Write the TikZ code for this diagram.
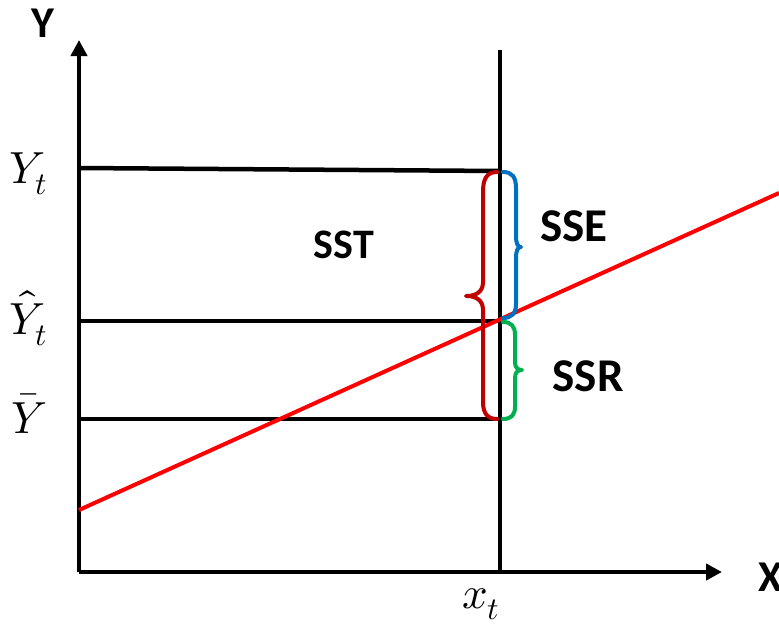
\documentclass[tikz,border=0pt]{standalone}
\usepackage{fontspec}
\usepackage{unicode-math}
\setmathfont{Latin Modern Math}
\setsansfont{Carlito}
\usetikzlibrary{arrows.meta}
\definecolor{bred}{HTML}{C00000}
\definecolor{bblue}{HTML}{0070C0}
\definecolor{bgreen}{HTML}{00B050}
\definecolor{lred}{HTML}{FF0000}
\begin{document}
\begin{tikzpicture}[x=1pt,y=-1pt,
  axis/.style={line width=4.5pt,-{Triangle[length=16pt,width=16pt]}},
  guide/.style={line width=4.5pt},
  bracestyle/.style={line width=4pt,line cap=round,line join=round},
  sslabel/.style={font=\sffamily\bfseries\fontsize{47}{50}\selectfont,inner sep=0pt},
  axlabel/.style={font=\sffamily\bfseries\fontsize{44}{46}\selectfont,inner sep=0pt},
  mlabel/.style={font=\fontsize{45}{48}\selectfont,inner sep=0pt,anchor=base west}]
\useasboundingbox (0,0) rectangle (779,627);
% coordinates
\coordinate (O) at (79,572);
\coordinate (Ytip) at (79,40);
\coordinate (Xtip) at (722,572);
\coordinate (Vtop) at (500,50);
\coordinate (Vbot) at (500,572);
\coordinate (YtL) at (79,168);
\coordinate (YtR) at (500,171);
\coordinate (YhL) at (79,321);
\coordinate (YhR) at (500,321);
\coordinate (YbL) at (79,419);
\coordinate (YbR) at (500,419);
\coordinate (RL) at (79,510);
\coordinate (RR) at (779,193);
% guides
\draw[guide] (Vtop) -- (Vbot);
\draw[guide] (YtL) -- (YtR);
\draw[guide] (YhL) -- (YhR);
\draw[guide] (YbL) -- (YbR);
% axes
\draw[axis] (O) -- (Ytip);
\draw[axis] (O) -- (Xtip);
% regression line
\draw[lred,line width=4pt] (RL) -- (RR);
% red brace (SST)
\draw[bred,bracestyle] (497,172) .. controls (486,172) and (483,180) .. (483,192)
  -- (483,282) .. controls (483,292) and (476,296) .. (466,296)
  .. controls (476,296) and (483,300) .. (483,310)
  -- (483,402) .. controls (483,414) and (488,419) .. (497,419);
% blue brace (SSE)
\draw[bblue,bracestyle] (503,172) .. controls (512,172) and (516,177) .. (516,188)
  -- (516,236) .. controls (516,244) and (518,247) .. (521,247)
  .. controls (518,247) and (516,250) .. (516,258)
  -- (516,304) .. controls (516,314) and (511,318) .. (503,318);
% green brace (SSR)
\draw[bgreen,bracestyle] (503,322) .. controls (511,322) and (515,326) .. (515,335)
  -- (515,362) .. controls (515,368) and (518,370) .. (522,370)
  .. controls (518,370) and (515,372) .. (515,378)
  -- (515,407) .. controls (515,415) and (511,419) .. (503,419);
% labels
\node[axlabel] (ylab) at (43,23) {Y};
\node[axlabel] (xlab) at (771,577) {X};
\node[mlabel] (yt) at (9,183) {$Y_t$};
\node[mlabel] (yh) at (9,334) {$\hat{Y}_t$};
\node[mlabel] (yb) at (11,433) {$\bar{Y}$};
\node[mlabel] (xt) at (462,608) {$x_t$};
\node[sslabel,font=\sffamily\bfseries\fontsize{42}{44}\selectfont] (sst) at (344,245) {SST};
\node[sslabel] (sse) at (574,226) {SSE};
\node[sslabel] (ssr) at (588,376) {SSR};
\end{tikzpicture}
\end{document}
